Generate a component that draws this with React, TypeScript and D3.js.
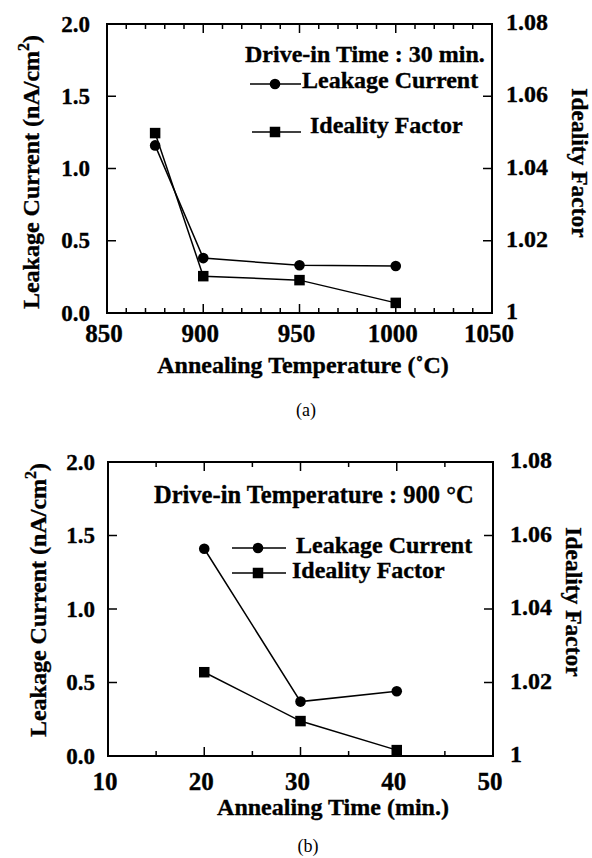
import React from 'react';
import * as d3 from 'd3';

// ---- data ----
const tempCategories = [875, 900, 950, 1000];
const tempLeakage = [1.16, 0.38, 0.33, 0.325];
const tempIdeality = [1.0498, 1.0102, 1.0091, 1.0028];

const timeCategories = [20, 30, 40];
const timeLeakage = [1.41, 0.37, 0.44];
const timeIdeality = [1.0228, 1.0095, 1.0016];

const leakageTicks = [0, 0.5, 1.0, 1.5, 2.0];
const idealityTicks = [1, 1.02, 1.04, 1.06, 1.08];
const tempTicks = [850, 900, 950, 1000, 1050];
const timeTicks = [10, 20, 30, 40, 50];

const FONT = "'Liberation Serif', 'Times New Roman', serif";
const TS = 0.35; // slight text stroke to mimic heavy scanned print

type Leg = { lx0: number; lx1: number; mx: number; y: number; tx: number; ty: number };
type PanelProps = {
  x0: number; x1: number; y0: number; y1: number;
  xDomain: [number, number];
  xTicks: number[];
  minorCount: number;
  categories: number[];
  leakage: number[];
  ideality: number[];
  leftLabelGap: number;
  rightLabelGap: number;
  xLabelDy: number;
  xTitle: string;
  xTitleX: number;
  xTitleY: number;
  yLabelX: number;
  yLabelY: number;
  rLabelX: number;
  rLabelY: number;
  legendTitle: string;
  legendTitleX: number;
  legendTitleY: number;
  legendTitleSize: number;
  leg1: Leg;
  leg2: Leg;
  caption: string;
  captionX: number;
  captionY: number;
};

const R = 5.3;
const SQ = 10.5;

function Circle({ cx, cy }: { cx: number; cy: number }) {
  return <circle cx={cx} cy={cy} r={R} fill="#000" />;
}
function Square({ cx, cy }: { cx: number; cy: number }) {
  return <rect x={cx - SQ / 2} y={cy - SQ / 2} width={SQ} height={SQ} fill="#000" />;
}

const boldText = {
  fontFamily: FONT,
  fontWeight: 'bold' as const,
  stroke: '#000',
  strokeWidth: TS,
  fill: '#000',
};

function Panel(p: PanelProps) {
  const x = d3.scaleLinear().domain(p.xDomain).range([p.x0, p.x1]);
  const yL = d3.scaleLinear().domain([0, 2]).range([p.y1, p.y0]);
  const yR = d3.scaleLinear().domain([1, 1.08]).range([p.y1, p.y0]);
  const line = d3.line<[number, number]>();
  const leakPts: [number, number][] = p.categories.map((c, i) => [x(c), yL(p.leakage[i])]);
  const idealPts: [number, number][] = p.categories.map((c, i) => [x(c), yR(p.ideality[i])]);
  const minor = x.ticks(p.minorCount);
  const major = 9;
  const minorLen = 5;

  return (
    <g>
      {/* frame */}
      <rect x={p.x0} y={p.y0} width={p.x1 - p.x0} height={p.y1 - p.y0} fill="none" stroke="#000" strokeWidth={2} />
      {/* x ticks bottom & top */}
      {minor.map((t) => {
        const len = p.xTicks.includes(t) ? major : minorLen;
        const xx = x(t);
        return (
          <g key={'xt' + t}>
            <line x1={xx} x2={xx} y1={p.y1} y2={p.y1 - len} stroke="#000" strokeWidth={1.5} />
            <line x1={xx} x2={xx} y1={p.y0} y2={p.y0 + len} stroke="#000" strokeWidth={1.5} />
          </g>
        );
      })}
      {/* left ticks */}
      {leakageTicks.map((t) => (
        <g key={'yl' + t}>
          <line x1={p.x0} x2={p.x0 + major} y1={yL(t)} y2={yL(t)} stroke="#000" strokeWidth={1.5} />
          <text x={p.x0 - p.leftLabelGap} y={yL(t)} textAnchor="end" dominantBaseline="central"
            {...boldText} fontSize={23}>{t.toFixed(1)}</text>
        </g>
      ))}
      {/* right ticks */}
      {idealityTicks.map((t) => (
        <g key={'yr' + t}>
          <line x1={p.x1} x2={p.x1 - major} y1={yR(t)} y2={yR(t)} stroke="#000" strokeWidth={1.5} />
          <text x={p.x1 + p.rightLabelGap} y={yR(t) - 2} textAnchor="start" dominantBaseline="central"
            {...boldText} fontSize={24}>{t === 1 ? '1' : t.toFixed(2)}</text>
        </g>
      ))}
      {/* x tick labels */}
      {p.xTicks.map((t) => (
        <text key={'xl' + t} x={x(t) - 3} y={p.y1 + p.xLabelDy} textAnchor="middle"
          {...boldText} fontSize={25}>{t}</text>
      ))}
      {/* x title */}
      <text x={p.xTitleX} y={p.xTitleY} textAnchor="middle" {...boldText} fontSize={24}>{p.xTitle}</text>
      {/* left y title */}
      <text transform={`translate(${p.yLabelX},${p.yLabelY}) rotate(-90)`} textAnchor="middle" dominantBaseline="central"
        {...boldText} fontSize={24}>
        Leakage Current (nA/cm<tspan dy={-8} fontSize={16}>2</tspan><tspan dy={8}>)</tspan>
      </text>
      {/* right y title */}
      <text transform={`translate(${p.rLabelX},${p.rLabelY}) rotate(90)`} textAnchor="middle" dominantBaseline="central"
        {...boldText} fontSize={23.5}>Ideality Factor</text>
      {/* data */}
      <path d={line(leakPts) || ''} fill="none" stroke="#000" strokeWidth={1.5} />
      <path d={line(idealPts) || ''} fill="none" stroke="#000" strokeWidth={1.5} />
      {leakPts.map((pt, i) => <Circle key={'c' + i} cx={pt[0]} cy={pt[1]} />)}
      {idealPts.map((pt, i) => <Square key={'s' + i} cx={pt[0]} cy={pt[1]} />)}
      {/* legend */}
      <text x={p.legendTitleX} y={p.legendTitleY} {...boldText} fontSize={p.legendTitleSize}>{p.legendTitle}</text>
      <line x1={p.leg1.lx0} x2={p.leg1.lx1} y1={p.leg1.y} y2={p.leg1.y} stroke="#000" strokeWidth={1.5} />
      <Circle cx={p.leg1.mx} cy={p.leg1.y} />
      <text x={p.leg1.tx} y={p.leg1.ty} {...boldText} fontSize={24}>Leakage Current</text>
      <line x1={p.leg2.lx0} x2={p.leg2.lx1} y1={p.leg2.y} y2={p.leg2.y} stroke="#000" strokeWidth={1.5} />
      <Square cx={p.leg2.mx} cy={p.leg2.y} />
      <text x={p.leg2.tx} y={p.leg2.ty} {...boldText} fontSize={24}>Ideality Factor</text>
      {/* caption */}
      <text x={p.captionX} y={p.captionY} textAnchor="middle" fontFamily={FONT} fontSize={18}>{p.caption}</text>
    </g>
  );
}

export default function App() {
  return (
    <svg width={592} height={858} viewBox="0 0 592 858"
      style={{ position: 'absolute', left: 0, top: 0, background: '#fff' }}>
      <rect x={0} y={0} width={592} height={858} fill="#fff" />
      <Panel
        x0={107} x1={492} y0={24} y1={313}
        xDomain={[850, 1050]} xTicks={tempTicks} minorCount={20}
        categories={tempCategories} leakage={tempLeakage} ideality={tempIdeality}
        leftLabelGap={17} rightLabelGap={14} xLabelDy={29}
        xTitle="Annealing Temperature (˚C)" xTitleX={303} xTitleY={373}
        yLabelX={31} yLabelY={172} rLabelX={580} rLabelY={163}
        legendTitle="Drive-in Time : 30 min." legendTitleX={245} legendTitleY={62} legendTitleSize={24}
        leg1={{ lx0: 250, lx1: 301, mx: 275, y: 84, tx: 302, ty: 88 }}
        leg2={{ lx0: 252, lx1: 301, mx: 275, y: 132, tx: 310, ty: 133 }}
        caption="(a)" captionX={306} captionY={416}
      />
      <Panel
        x0={108} x1={493} y0={462} y1={756}
        xDomain={[10, 50]} xTicks={timeTicks} minorCount={8}
        categories={timeCategories} leakage={timeLeakage} ideality={timeIdeality}
        leftLabelGap={13} rightLabelGap={17} xLabelDy={34}
        xTitle="Annealing Time (min.)" xTitleX={333} xTitleY={815}
        yLabelX={38} yLabelY={600} rLabelX={574} rLabelY={602}
        legendTitle="Drive-in Temperature : 900 °C" legendTitleX={154} legendTitleY={503} legendTitleSize={24.5}
        leg1={{ lx0: 232, lx1: 286, mx: 258, y: 548, tx: 296, ty: 553 }}
        leg2={{ lx0: 232, lx1: 286, mx: 258, y: 573, tx: 292, ty: 578 }}
        caption="(b)" captionX={308} captionY={852}
      />
    </svg>
  );
}
